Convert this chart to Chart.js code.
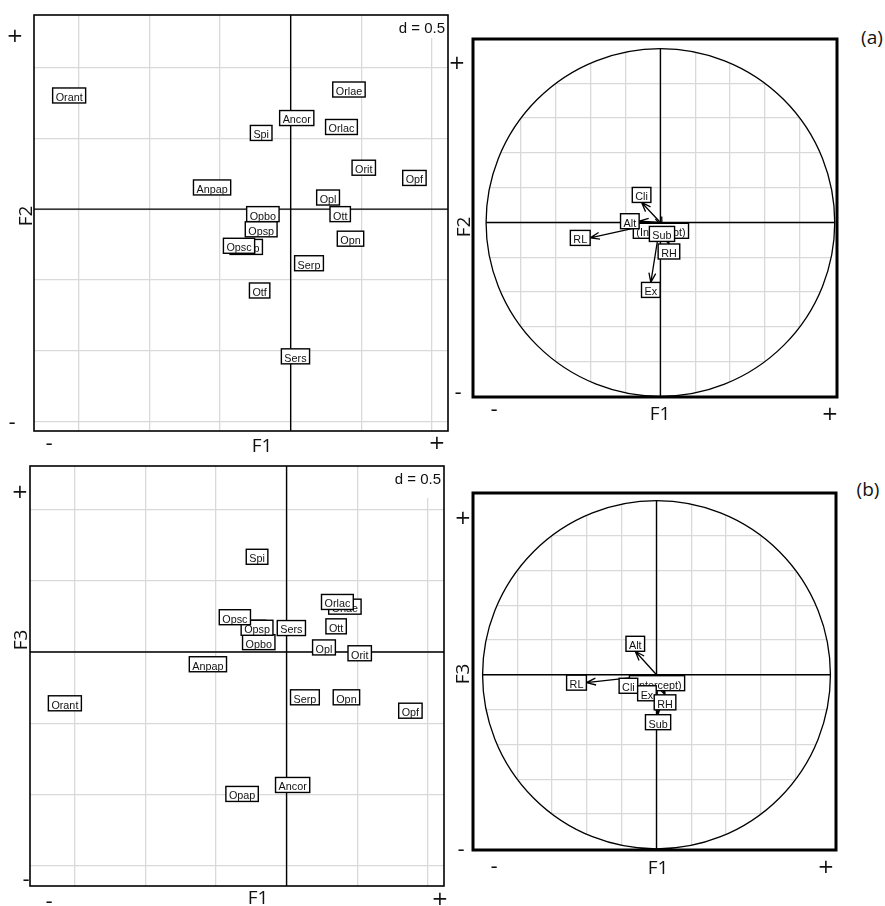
<!DOCTYPE html>
<html>
<head>
<meta charset="utf-8">
<script src="https://cdn.jsdelivr.net/npm/chart.js@4.4.1/dist/chart.umd.min.js"></script>
<style>
  html, body { margin: 0; padding: 0; background: #fff; }
  #wrap { position: relative; width: 885px; height: 906px; overflow: hidden; }
  canvas { position: absolute; }
  .t { position: absolute; transform: translate(-50%, -50%); font-family: "Open Sans", "Noto Sans", sans-serif; font-size: 19px; color: #111; white-space: nowrap; line-height: 1; }
  .s { font-family: "DejaVu Sans", sans-serif; font-size: 20px; }
  .rot { transform: translate(-50%, -50%) rotate(-90deg); }
</style>
</head>
<body>
<div id="wrap">
  <canvas id="c12"></canvas>
  <canvas id="cor12"></canvas>
  <canvas id="c13"></canvas>
  <canvas id="cor13"></canvas>

  <!-- top row -->
  <div class="t s" style="left:15px;top:35px">+</div>
  <div class="t rot" style="left:25px;top:216px">F2</div>
  <div class="t s" style="left:12px;top:422px">-</div>
  <div class="t s" style="left:49px;top:443px">-</div>
  <div class="t" style="left:262px;top:445px">F1</div>
  <div class="t s" style="left:437px;top:442px">+</div>

  <div class="t s" style="left:457px;top:62px">+</div>
  <div class="t rot" style="left:463px;top:227px">F2</div>
  <div class="t s" style="left:458px;top:392px">-</div>
  <div class="t s" style="left:494px;top:409px">-</div>
  <div class="t" style="left:660px;top:413px">F1</div>
  <div class="t s" style="left:830px;top:413px">+</div>
  <div class="t" style="left:872px;top:37px">(a)</div>

  <!-- bottom row -->
  <div class="t s" style="left:20px;top:491px">+</div>
  <div class="t rot" style="left:20px;top:640px">F3</div>
  <div class="t s" style="left:26px;top:879px">-</div>
  <div class="t s" style="left:49px;top:901px">-</div>
  <div class="t" style="left:258px;top:897px">F1</div>
  <div class="t s" style="left:440px;top:898px">+</div>

  <div class="t s" style="left:463px;top:517px">+</div>
  <div class="t rot" style="left:462px;top:674px">F3</div>
  <div class="t s" style="left:461px;top:849px">-</div>
  <div class="t s" style="left:494px;top:866px">-</div>
  <div class="t" style="left:658px;top:867px">F1</div>
  <div class="t s" style="left:826px;top:866px">+</div>
  <div class="t" style="left:868px;top:489px">(b)</div>
</div>
<script>
// species scores on the three axes (drawing order = array order)
const species = ['Anpap', 'Ancor', 'Opap', 'Opbo', 'Otf', 'Opsp', 'Opsc', 'Opf', 'Opl', 'Opn', 'Orant', 'Orit', 'Orlae', 'Orlac', 'Ott', 'Serp', 'Sers', 'Spi'];
const spF1 = [-0.557, 0.043, -0.315, -0.197, -0.220, -0.209, -0.366, 0.877, 0.265, 0.424, -1.570, 0.518, 0.413, 0.360, 0.351, 0.130, 0.034, -0.209];
const spF2 = [0.153, 0.642, -0.266, -0.035, -0.573, -0.142, -0.258, 0.220, 0.082, -0.208, 0.801, 0.292, 0.843, 0.579, -0.035, -0.381, -1.037, 0.537];
const spF3 = [-0.086, -0.933, -0.996, 0.069, 0.170, 0.170, 0.244, -0.412, 0.032, -0.318, -0.360, -0.009, 0.318, 0.351, 0.180, -0.318, 0.168, 0.668];

// environmental variables (correlation circle)
const envVars = ['(Intercept)', 'RL', 'Alt', 'Cli', 'Ex', 'RH', 'Sub'];
const varF1 = [0.003, -0.403, -0.122, -0.108, -0.055, 0.049, 0.009];
const varF2 = [-0.005, -0.089, 0.007, 0.115, -0.345, -0.124, -0.023];
const varF3 = [-0.005, -0.045, 0.135, -0.063, -0.063, -0.115, -0.229];

const gridLeft = 0.5;
const gridCircle = 0.2;

const LAB_FONT = '10.8px "Liberation Sans", Arial, sans-serif';
const BOX_H = 15;

function box(ctx, cx, cy, w, txt) {
    ctx.fillStyle = '#fff';
    ctx.fillRect(cx - w / 2, cy - BOX_H / 2, w, BOX_H);
    ctx.strokeStyle = '#000';
    ctx.lineWidth = 1.4;
    ctx.strokeRect(cx - w / 2, cy - BOX_H / 2, w, BOX_H);
    ctx.fillStyle = '#111';
    ctx.textAlign = 'center';
    ctx.textBaseline = 'alphabetic';
    ctx.fillText(txt, cx, cy + 5.4);
}

function arrow(ctx, x0, y0, x1, y1) {
    if (Math.hypot(x1 - x0, y1 - y0) < 1.5) return;
    const a = Math.atan2(y1 - y0, x1 - x0), hl = 10, ha = Math.PI / 9;
    ctx.beginPath();
    ctx.moveTo(x0, y0);
    ctx.lineTo(x1, y1);
    ctx.moveTo(x1 - hl * Math.cos(a - ha), y1 - hl * Math.sin(a - ha));
    ctx.lineTo(x1, y1);
    ctx.lineTo(x1 - hl * Math.cos(a + ha), y1 - hl * Math.sin(a + ha));
    ctx.stroke();
}

const pcaPlugin = {
    id: 'pca',
    beforeDraw(chart, args, o) {
        if (!o.circle) return;
        const ctx = chart.ctx, sx = chart.scales.x, sy = chart.scales.y;
        const cx = sx.getPixelForValue(0), cy = sy.getPixelForValue(0);
        ctx.save();
        ctx.beginPath();
        ctx.ellipse(cx, cy, sx.getPixelForValue(1) - cx, cy - sy.getPixelForValue(1), 0, 0, Math.PI * 2);
        ctx.clip();
    },
    beforeDatasetsDraw(chart, args, o) {
        const ctx = chart.ctx, a = chart.chartArea, sx = chart.scales.x, sy = chart.scales.y;
        const cx = sx.getPixelForValue(0), cy = sy.getPixelForValue(0);
        // axes through the origin
        ctx.save();
        ctx.strokeStyle = '#000';
        ctx.lineWidth = 1.4;
        ctx.beginPath();
        ctx.moveTo(a.left, cy); ctx.lineTo(a.right, cy);
        ctx.moveTo(cx, a.top); ctx.lineTo(cx, a.bottom);
        ctx.stroke();
        ctx.restore();
        if (o.circle) {
            ctx.restore();
            ctx.save();
            ctx.strokeStyle = '#000';
            ctx.lineWidth = 1.3;
            ctx.beginPath();
            ctx.ellipse(cx, cy, sx.getPixelForValue(1) - cx, cy - sy.getPixelForValue(1), 0, 0, Math.PI * 2);
            ctx.stroke();
            ctx.restore();
        }
        if (o.dText) {
            ctx.save();
            ctx.font = '15px "Liberation Sans", Arial, sans-serif';
            const w = ctx.measureText(o.dText).width + 8;
            ctx.fillStyle = '#fff';
            ctx.fillRect(a.right - w, a.top, w, o.dBoxH);
            ctx.fillStyle = '#111';
            ctx.textAlign = 'right';
            ctx.textBaseline = 'middle';
            ctx.fillText(o.dText, a.right - 3, a.top + 14);
            ctx.restore();
        }
    },
    afterDatasetsDraw(chart, args, o) {
        const ctx = chart.ctx, a = chart.chartArea, sx = chart.scales.x, sy = chart.scales.y;
        const meta = chart.getDatasetMeta(0);
        const ds = chart.data.datasets[0];
        const ox = sx.getPixelForValue(0), oy = sy.getPixelForValue(0);
        ctx.save();
        ctx.font = LAB_FONT;
        if (o.arrows) {
            ctx.strokeStyle = '#000';
            ctx.lineWidth = 1.3;
            meta.data.forEach(pt => arrow(ctx, ox, oy, pt.x, pt.y));
        }
        meta.data.forEach((pt, i) => {
            const name = ds.labels[i];
            const w = ctx.measureText(' ' + name + ' ').width;
            let x1 = pt.x, y1 = pt.y;
            if (o.arrows) {
                // label pushed outwards from the arrow tip
                const xr = ds.data[i].x, yr = ds.data[i].y;
                if (xr > yr && xr > -yr) x1 += w / 2;
                else if (xr > yr && xr <= -yr) y1 += BOX_H / 2;
                else if (xr <= yr && xr <= -yr) x1 -= w / 2;
                else y1 -= BOX_H / 2;
            }
            box(ctx, x1, y1, w, name);
        });
        // frame
        ctx.strokeStyle = '#000';
        ctx.lineWidth = o.frameW;
        ctx.strokeRect(a.left, a.top, a.right - a.left, a.bottom - a.top);
        ctx.restore();
    }
};

function makeChart(id, frame, xr, yr, step, xs, ys, names, opts) {
    const P = 12;
    const cv = document.getElementById(id);
    cv.width = frame.w + 2 * P;
    cv.height = frame.h + 2 * P;
    cv.style.left = (frame.l - P) + 'px';
    cv.style.top = (frame.t - P) + 'px';
    const axis = (min, max) => ({
        type: 'linear',
        min: min,
        max: max,
        ticks: { display: false, stepSize: step, includeBounds: false },
        grid: { drawTicks: false, color: '#d9d9d9', lineWidth: 1.3 },
        border: { display: false }
    });
    return new Chart(cv, {
        type: 'scatter',
        data: {
            datasets: [{
                labels: names,
                data: names.map((n, i) => ({ x: xs[i], y: ys[i] })),
                pointRadius: 0,
                pointHoverRadius: 0
            }]
        },
        options: {
            responsive: false,
            animation: false,
            events: [],
            layout: { padding: P },
            scales: { x: axis(xr[0], xr[1]), y: axis(yr[0], yr[1]) },
            plugins: { legend: { display: false }, tooltip: { enabled: false }, pca: opts }
        },
        plugins: [pcaPlugin]
    });
}

// (a) F1 x F2
makeChart('c12', { l: 34, t: 15, w: 414, h: 416 }, [-1.819, 1.115], [-1.563, 1.368], gridLeft,
    spF1, spF2, species, { frameW: 1.6, dText: 'd = 0.5', dBoxH: 23 });
makeChart('cor12', { l: 473, t: 39, w: 364, h: 358 }, [-1.075, 1.013], [-1.004, 1.055], gridCircle,
    varF1, varF2, envVars, { frameW: 3, circle: true, arrows: true });

// (b) F1 x F3
makeChart('c13', { l: 30, t: 466, w: 414, h: 420 }, [-1.817, 1.115], [-1.642, 1.305], gridLeft,
    spF1, spF3, species, { frameW: 1.6, dText: 'd = 0.5', dBoxH: 32 });
makeChart('cor13', { l: 473, t: 493, w: 363, h: 357 }, [-1.055, 1.032], [-1.006, 1.044], gridCircle,
    varF1, varF3, envVars, { frameW: 3, circle: true, arrows: true });
</script>
</body>
</html>
